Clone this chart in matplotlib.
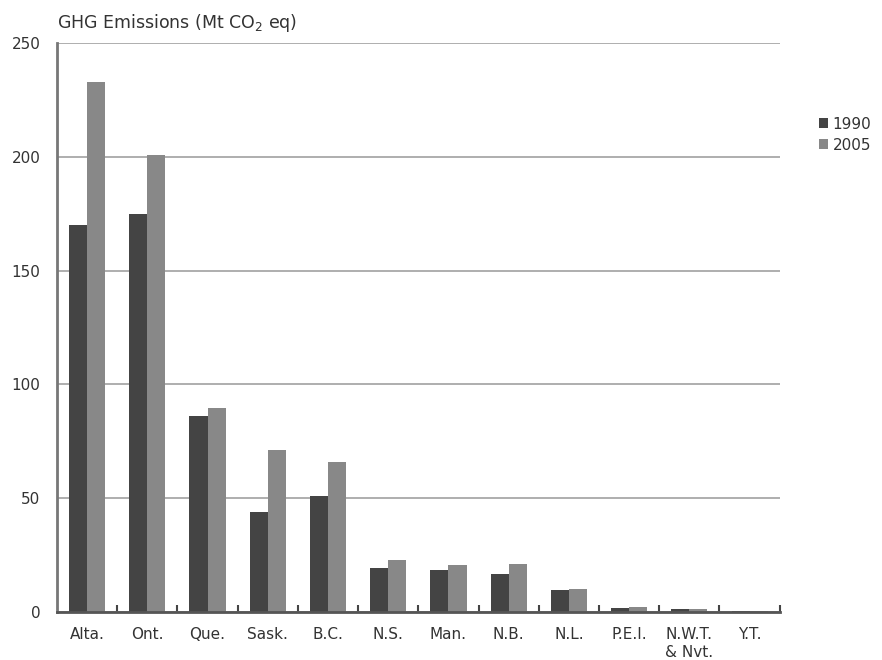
import numpy as np
import matplotlib
matplotlib.use("Agg")
from matplotlib import pyplot as plt

provinces = ['Alta.', 'Ont.', 'Que.', 'Sask.', 'B.C.', 'N.S.', 'Man.', 'N.B.',
             'N.L.', 'P.E.I.', 'N.W.T.\n& Nvt.', 'Y.T.']
emissions_1990 = [170, 175, 86, 44, 51, 19.5, 18.3, 16.5, 9.8, 1.9, 1.5, 0.5]
emissions_2005 = [233, 201, 89.5, 71, 66, 22.8, 20.5, 21.3, 10.3, 2.1, 1.4, 0.4]
years = ['1990', '2005']

plt.rcParams['font.family'] = ['DejaVu Sans']

fig = plt.figure(figsize=(8.82, 6.6), dpi=100)
ax = fig.add_axes([0.0646, 0.0727, 0.8194, 0.8621])

x = np.arange(len(provinces))
w = 0.3
ax.bar(x - w / 2, emissions_1990, w, color='#444444', label=years[0], zorder=3)
ax.bar(x + w / 2, emissions_2005, w, color='#888888', label=years[1], zorder=3)

ax.set_xlim(-0.5, len(provinces) - 0.5)
ax.set_ylim(0, 250)
ax.set_yticks([0, 50, 100, 150, 200, 250])
ax.yaxis.grid(True, color='#a8a8a8', linewidth=1.3, zorder=0)
ax.tick_params(axis='y', length=0, pad=12, labelsize=11, labelcolor='#333333')

ax.set_xticks(x)
ax.set_xticklabels(provinces, fontsize=11, color='#333333', va='top')
ax.tick_params(axis='x', which='major', length=0, pad=11)
ax.set_xticks(np.arange(0.5, len(provinces)), minor=True)
ax.tick_params(axis='x', which='minor', direction='in', length=5, width=1.5, color='#444444')

for s in ['top', 'right']:
    ax.spines[s].set_visible(False)
ax.spines['left'].set_color('#777777')
ax.spines['left'].set_linewidth(2)
ax.spines['bottom'].set_color('#555555')
ax.spines['bottom'].set_linewidth(2)
ax.spines['bottom'].set_zorder(4)

fig.text(0.0646, 0.965, 'GHG Emissions (Mt CO$_2$ eq)', fontsize=12.5, color='#333333',
         ha='left', va='center')

ax.legend(loc='upper left', bbox_to_anchor=(1.035, 0.895), frameon=False, fontsize=11,
          handlelength=0.6, handleheight=0.6, handletextpad=0.3, labelspacing=0.4,
          labelcolor='#333333')

fig.savefig('out.png', dpi=100)
